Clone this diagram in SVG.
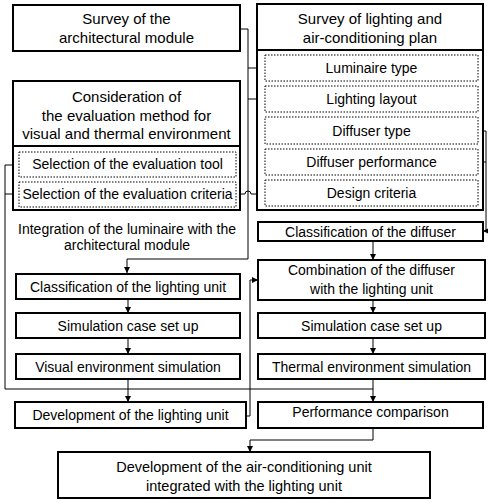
<svg xmlns="http://www.w3.org/2000/svg" width="488" height="502" viewBox="0 0 488 502">
<defs>
<marker id="ah" markerWidth="6" markerHeight="6" refX="6" refY="3" orient="auto" markerUnits="userSpaceOnUse">
<path d="M0,0 L6,3 L0,6 Z" fill="#000"/>
</marker>
<style>
.box{fill:#fff;stroke:#000;stroke-width:2}
.dot{fill:none;stroke:#000;stroke-width:1;stroke-dasharray:1.5 1.5}
.ln{fill:none;stroke:#000;stroke-width:1}
.t{font-family:"Liberation Sans",Arial,sans-serif;font-size:14px;fill:#000;text-anchor:middle}
.h{font-size:15px}
</style>
</defs>
<rect width="488" height="502" fill="#fff"/>

<g id="connectors">
<polyline class="ln" points="240,29 248,29 248,259 127,259 127,273" marker-end="url(#ah)"/>
<line class="ln" x1="248" y1="68" x2="265" y2="68"/>
<line class="ln" x1="248" y1="99" x2="265" y2="99"/>
<path class="ln" d="M236,194 H245 A3,3 0 0 1 251,194 H265"/>
<polyline class="ln" points="19,165 5,165 5,389 373,389"/>
<line class="ln" x1="19" y1="194" x2="5" y2="194"/>
<line class="ln" x1="128" y1="299" x2="128" y2="313" marker-end="url(#ah)"/>
<line class="ln" x1="128" y1="338" x2="128" y2="354" marker-end="url(#ah)"/>
<line class="ln" x1="128" y1="379" x2="128" y2="402" marker-end="url(#ah)"/>
<polyline class="ln" points="478,131 486,131 486,231 483,231" marker-end="url(#ah)"/>
<line class="ln" x1="478" y1="162" x2="486" y2="162"/>
<line class="ln" x1="373" y1="241" x2="373" y2="260" marker-end="url(#ah)"/>
<line class="ln" x1="373" y1="300" x2="373" y2="313" marker-end="url(#ah)"/>
<line class="ln" x1="373" y1="338" x2="373" y2="354" marker-end="url(#ah)"/>
<line class="ln" x1="373" y1="379" x2="373" y2="402" marker-end="url(#ah)"/>
<polyline class="ln" points="246,416 250,416 250,280 258,280" marker-end="url(#ah)"/>
<polyline class="ln" points="373,428 373,440 250,440 250,452" marker-end="url(#ah)"/>
</g>

<g id="survey-arch">
<rect class="box" x="13" y="5" width="227" height="46"/>
<text class="t h" x="126.5" y="24">Survey of the</text>
<text class="t h" x="126.5" y="43">architectural module</text>
</g>

<g id="consideration">
<rect class="box" x="13" y="81" width="227" height="129"/>
<line class="box" x1="13" y1="146" x2="240" y2="146"/>
<text class="t h" x="126.5" y="102">Consideration of</text>
<text class="t h" x="126.5" y="121">the evaluation method for</text>
<text class="t h" x="126.5" y="139">visual and thermal environment</text>
</g>
<g id="eval-tool">
<rect class="dot" x="19" y="152" width="217" height="25"/>
<text class="t" x="127.5" y="169">Selection of the evaluation tool</text>
</g>
<g id="eval-criteria">
<rect class="dot" x="19" y="182" width="217" height="25"/>
<text class="t" x="127.5" y="199">Selection of the evaluation criteria</text>
</g>

<g id="integration-label">
<text class="t" x="127" y="234">Integration of the luminaire with the</text>
<text class="t" x="127" y="250">architectural module</text>
</g>

<g id="survey-plan">
<rect class="box" x="257" y="4" width="226" height="206"/>
<line class="box" x1="257" y1="50" x2="483" y2="50"/>
<text class="t h" x="370" y="24">Survey of lighting and</text>
<text class="t h" x="370" y="43">air-conditioning plan</text>
</g>
<g id="luminaire-type">
<rect class="dot" x="265" y="55" width="213" height="26"/>
<text class="t" x="371.5" y="73">Luminaire type</text>
</g>
<g id="lighting-layout">
<rect class="dot" x="265" y="86" width="213" height="26"/>
<text class="t" x="371.5" y="104">Lighting layout</text>
</g>
<g id="diffuser-type">
<rect class="dot" x="265" y="117" width="213" height="27"/>
<text class="t" x="371.5" y="136">Diffuser type</text>
</g>
<g id="diffuser-performance">
<rect class="dot" x="265" y="149" width="213" height="26"/>
<text class="t" x="371.5" y="167">Diffuser performance</text>
</g>
<g id="design-criteria">
<rect class="dot" x="265" y="180" width="213" height="26"/>
<text class="t" x="371.5" y="198">Design criteria</text>
</g>

<g id="class-diffuser">
<rect class="box" x="258" y="222" width="225" height="19"/>
<text class="t" x="370.5" y="237">Classification of the diffuser</text>
</g>
<g id="combination">
<rect class="box" x="258" y="260" width="227" height="40"/>
<text class="t" x="371.5" y="275">Combination of the diffuser</text>
<text class="t" x="371.5" y="294">with the lighting unit</text>
</g>
<g id="sim-right">
<rect class="box" x="258" y="313" width="227" height="25"/>
<text class="t" x="371.5" y="331">Simulation case set up</text>
</g>
<g id="thermal-sim">
<rect class="box" x="258" y="354" width="227" height="25"/>
<text class="t" x="371.5" y="372">Thermal environment simulation</text>
</g>

<g id="class-lighting">
<rect class="box" x="16" y="274" width="224" height="25"/>
<text class="t" x="128" y="292">Classification of the lighting unit</text>
</g>
<g id="sim-left">
<rect class="box" x="16" y="313" width="224" height="25"/>
<text class="t" x="128" y="331">Simulation case set up</text>
</g>
<g id="visual-sim">
<rect class="box" x="16" y="354" width="224" height="25"/>
<text class="t" x="128" y="372">Visual environment simulation</text>
</g>

<g id="dev-lighting">
<rect class="box" x="15" y="402" width="231" height="26"/>
<text class="t" x="130.5" y="420">Development of the lighting unit</text>
</g>
<g id="performance">
<rect class="box" x="258" y="402" width="225" height="26"/>
<text class="t" x="370.5" y="417">Performance comparison</text>
</g>

<g id="dev-aircon">
<rect class="box" x="58" y="452" width="372" height="46"/>
<text class="t" x="244" y="472" style="font-size:14.5px">Development of the air-conditioning unit</text>
<text class="t" x="244" y="491" style="font-size:14.5px">integrated with the lighting unit</text>
</g>
</svg>
